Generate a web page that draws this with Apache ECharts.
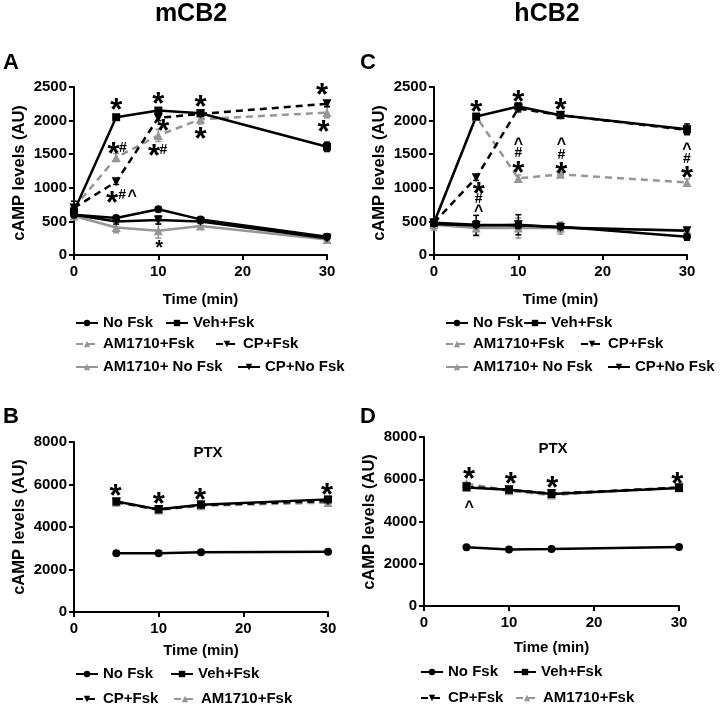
<!DOCTYPE html>
<html><head><meta charset="utf-8">
<script src="https://cdn.jsdelivr.net/npm/echarts@6/dist/echarts.min.js"></script>
<style>html,body{margin:0;padding:0;background:#fff}#c{width:722px;height:705px}</style>
</head><body><div id="c"></div>
<script>
// ---------- data ----------
const timeAC = [0, 5, 10, 15, 30];
const timeBD = [5, 10, 15, 30];
const xTicks = [0, 10, 20, 30];

// Panel A (mCB2)
const mNoFsk      = [600, 550, 680, 530, 270];
const mNoFskErr   = [40, 30, 30, 30, 40];
const mVehFsk     = [650, 2050, 2150, 2110, 1610];
const mVehFskErr  = [80, 30, 40, 40, 70];
const mAMFsk      = [700, 1450, 1780, 2020, 2120];
const mAMFskErr   = [100, 60, 90, 70, 80];
const mCPFsk      = [700, 1090, 2040, 2100, 2250];
const mCPFskErr   = [100, 40, 40, 40, 40];
const mAMNoFsk    = [580, 410, 360, 430, 230];
const mAMNoFskErr = [50, 80, 110, 40, 30];
const mCPNoFsk    = [600, 500, 520, 500, 250];
const mCPNoFskErr = [50, 40, 60, 30, 40];

// Panel C (hCB2)
const hNoFsk      = [480, 450, 440, 420, 270];
const hNoFskErr   = [40, 60, 60, 40, 50];
const hVehFsk     = [480, 2060, 2210, 2080, 1870];
const hVehFskErr  = [40, 30, 50, 30, 80];
const hAMFsk      = [480, 2060, 1140, 1200, 1080];
const hAMFskErr   = [40, 30, 50, 30, 50];
const hCPFsk      = [480, 1150, 2180, 2080, 1860];
const hCPFskErr   = [40, 40, 50, 30, 50];
const hAMNoFsk    = [450, 400, 400, 400, 370];
const hAMNoFskErr = [80, 100, 150, 90, 30];
const hCPNoFsk    = [460, 440, 450, 410, 360];
const hCPNoFskErr = [50, 150, 150, 60, 30];

// Panel B (mCB2, PTX)
const bNoFsk     = [2760, 2760, 2810, 2840];
const bNoFskErr  = [40, 40, 40, 40];
const bVehFsk    = [5200, 4830, 5050, 5300];
const bVehFskErr = [60, 50, 50, 80];
const bCPFsk     = [5180, 4820, 5030, 5220];
const bCPFskErr  = [60, 50, 50, 60];
const bAMFsk     = [5170, 4800, 5000, 5150];
const bAMFskErr  = [60, 50, 50, 60];

// Panel D (hCB2, PTX)
const dNoFsk     = [2780, 2680, 2700, 2790];
const dNoFskErr  = [40, 40, 40, 40];
const dVehFsk    = [5610, 5500, 5300, 5580];
const dVehFskErr = [60, 50, 60, 60];
const dCPFsk     = [5650, 5500, 5320, 5600];
const dCPFskErr  = [60, 50, 60, 60];
const dAMFsk     = [5800, 5450, 5250, 5620];
const dAMFskErr  = [60, 50, 60, 60];

// significance marks: [time, value, text, optional fontSize]
const annA = [
  [5, 2250, '*'], [10, 2340, '*'], [15, 2290, '*'],
  [29.4, 2465, '*'], [30.6, 2460, '#'],
  [4.7, 1590, '*'], [5.8, 1590, '#'],
  [9.5, 1565, '*'], [10.6, 1565, '#'],
  [10.6, 1940, '*'], [15, 1810, '*'],
  [29.6, 1913, '*'], [30.7, 1913, '#'],
  [30.2, 1390, '*'],
  [4.5, 870, '*'], [5.7, 895, '#'], [6.9, 920, '^'],
  [10.1, 175, '*', 20]
];
const annC = [
  [5, 2220, '*'], [10, 2360, '*'], [15, 2250, '*'], [30.1, 2090, '*'],
  [10, 1690, '^'], [10, 1516, '#'], [10, 1307, '*'],
  [15.1, 1690, '^'], [15.1, 1490, '#'], [15.1, 1290, '*'],
  [30, 1615, '^'], [30, 1426, '#'], [30, 1240, '*'],
  [5.3, 994, '*'], [5.3, 830, '#'], [5.3, 696, '^']
];
const annB = [[4.9, 5750, '*'], [10, 5350, '*'], [14.9, 5560, '*'], [29.9, 5800, '*']];
const annD = [[5.3, 6280, '*'], [10.2, 6080, '*'], [15.1, 5890, '*'], [29.8, 6080, '*'], [5.3, 4800, '^']];

// ---------- styles ----------
const FONT = 'Liberation Sans, Arial, Helvetica, sans-serif';
const GRAY = '#969696';
const STY = {
  'No Fsk':         {color: '#000', type: 'solid',  symbol: 'circle',   rot: 0,   size: 8},
  'Veh+Fsk':        {color: '#000', type: 'solid',  symbol: 'rect',     rot: 0,   size: 8},
  'AM1710+Fsk':     {color: GRAY,   type: [7, 5],   symbol: 'triangle', rot: 0,   size: 9},
  'CP+Fsk':         {color: '#000', type: [7, 5],   symbol: 'triangle', rot: 180, size: 9},
  'AM1710+ No Fsk': {color: GRAY,   type: 'solid',  symbol: 'triangle', rot: 0,   size: 9},
  'CP+No Fsk':      {color: '#000', type: 'solid',  symbol: 'triangle', rot: 180, size: 9}
};

const series = [];
function addSeries(name, gi, times, vals, errs) {
  const s = STY[name];
  series.push({
    type: 'custom', name: '__err' + gi + name, xAxisIndex: gi, yAxisIndex: gi, silent: true, z: 3,
    data: times.map((t, i) => [t, vals[i], errs[i]]),
    renderItem: function (params, api) {
      const x = api.value(0), y = api.value(1), e = api.value(2);
      const p1 = api.coord([x, y + e]), p2 = api.coord([x, y - e]);
      const w = 3, st = {stroke: s.color, lineWidth: 1.5};
      return {type: 'group', children: [
        {type: 'line', shape: {x1: p1[0], y1: p1[1], x2: p2[0], y2: p2[1]}, style: st},
        {type: 'line', shape: {x1: p1[0] - w, y1: p1[1], x2: p1[0] + w, y2: p1[1]}, style: st},
        {type: 'line', shape: {x1: p2[0] - w, y1: p2[1], x2: p2[0] + w, y2: p2[1]}, style: st}
      ]};
    }
  });
  series.push({
    type: 'line', name: name, xAxisIndex: gi, yAxisIndex: gi, z: 4,
    data: times.map((t, i) => [t, vals[i]]),
    symbol: s.symbol, symbolSize: s.size, symbolRotate: s.rot, showSymbol: true,
    lineStyle: {color: s.color, width: 2.5, type: s.type},
    itemStyle: {color: s.color},
    animation: false, silent: true
  });
}

// order: gray underneath black
addSeries('AM1710+ No Fsk', 0, timeAC, mAMNoFsk, mAMNoFskErr);
addSeries('AM1710+Fsk', 0, timeAC, mAMFsk, mAMFskErr);
addSeries('CP+No Fsk', 0, timeAC, mCPNoFsk, mCPNoFskErr);
addSeries('No Fsk', 0, timeAC, mNoFsk, mNoFskErr);
addSeries('CP+Fsk', 0, timeAC, mCPFsk, mCPFskErr);
addSeries('Veh+Fsk', 0, timeAC, mVehFsk, mVehFskErr);

addSeries('AM1710+ No Fsk', 1, timeAC, hAMNoFsk, hAMNoFskErr);
addSeries('AM1710+Fsk', 1, timeAC, hAMFsk, hAMFskErr);
addSeries('CP+No Fsk', 1, timeAC, hCPNoFsk, hCPNoFskErr);
addSeries('No Fsk', 1, timeAC, hNoFsk, hNoFskErr);
addSeries('CP+Fsk', 1, timeAC, hCPFsk, hCPFskErr);
addSeries('Veh+Fsk', 1, timeAC, hVehFsk, hVehFskErr);

addSeries('AM1710+Fsk', 2, timeBD, bAMFsk, bAMFskErr);
addSeries('CP+Fsk', 2, timeBD, bCPFsk, bCPFskErr);
addSeries('No Fsk', 2, timeBD, bNoFsk, bNoFskErr);
addSeries('Veh+Fsk', 2, timeBD, bVehFsk, bVehFskErr);

addSeries('AM1710+Fsk', 3, timeBD, dAMFsk, dAMFskErr);
addSeries('CP+Fsk', 3, timeBD, dCPFsk, dCPFskErr);
addSeries('No Fsk', 3, timeBD, dNoFsk, dNoFskErr);
addSeries('Veh+Fsk', 3, timeBD, dVehFsk, dVehFskErr);

function markSize(ch) { return ch === '*' ? 31 : (ch === '#' ? 14 : 16); }
function markOff(ch, fs) { return ch === '*' ? 0.24 * fs : (ch === '^' ? 0.2 * fs : 0); }
function addMarks(gi, ann) {
  series.push({
    type: 'scatter', name: '__marks' + gi, xAxisIndex: gi, yAxisIndex: gi, z: 6, silent: true,
    symbol: 'circle', symbolSize: 1, itemStyle: {color: '#fff', opacity: 0}, animation: false,
    data: ann.map(a => {
      const fs = a[3] || markSize(a[2]);
      return {value: [a[0], a[1]], label: {formatter: a[2], fontSize: fs, offset: [0, markOff(a[2], fs)]}};
    }),
    label: {show: true, position: 'inside', color: '#000', opacity: 1, fontWeight: 'bold', fontFamily: FONT,
            textBorderWidth: 0, textBorderColor: 'transparent', textShadowBlur: 0,
            align: 'center', verticalAlign: 'middle'}
  });
}
addMarks(0, annA); addMarks(1, annC); addMarks(2, annB); addMarks(3, annD);

// ---------- axes ----------
const grids = [
  {left: 74, top: 87, width: 253, height: 168},
  {left: 434, top: 87, width: 253, height: 168},
  {left: 74, top: 442, width: 254, height: 170},
  {left: 424, top: 437, width: 255, height: 169}
].map(g => Object.assign(g, {containLabel: false, outerBoundsMode: 'none'}));
const axisLine = {show: true, lineStyle: {color: '#000', width: 2}};
const axisTick = {show: true, length: 5, lineStyle: {color: '#000', width: 2}};
const tickFont = {color: '#000', fontSize: 15, fontWeight: 'bold', fontFamily: FONT};
const nameFont = {color: '#000', fontSize: 15, fontWeight: 'bold', fontFamily: FONT};
const xGaps = [37, 37, 31, 34];
const xAxes = grids.map((g, i) => ({
  type: 'value', gridIndex: i, min: xTicks[0], max: xTicks[xTicks.length - 1], interval: 10,
  axisLine, axisTick, splitLine: {show: false},
  axisLabel: Object.assign({margin: 9, formatter: v => String(v)}, tickFont),
  name: 'Time (min)', nameLocation: 'middle', nameGap: xGaps[i], nameTextStyle: nameFont,
  nameMoveOverlap: false
}));
const yCfg = [[0, 2500, 500], [0, 2500, 500], [0, 8000, 2000], [0, 8000, 2000]];
const yAxes = grids.map((g, i) => ({
  type: 'value', gridIndex: i, min: yCfg[i][0], max: yCfg[i][1], interval: yCfg[i][2],
  axisLine, axisTick, splitLine: {show: false},
  axisLabel: Object.assign({margin: 7, formatter: v => String(v)}, tickFont)
}));

// y-axis titles (rotated text): [centerX, centerY]
const yNamePos = [[19, 173], [379, 173], [19, 527], [369, 522]];
const graphics = yNamePos.map(p => ({
  type: 'text', x: p[0], y: p[1], rotation: Math.PI / 2, silent: true,
  style: {text: 'cAMP levels (AU)', fill: '#000', align: 'center', verticalAlign: 'middle',
          font: 'bold 16.5px ' + FONT}
}));

// ---------- legends ----------
function leg(name, left, rowY) {
  return {data: [name], left: left, top: rowY - 8, padding: 0, itemWidth: 22, itemHeight: 8,
          selectedMode: false, orient: 'horizontal',
          textStyle: {color: '#000', fontSize: 15, fontWeight: 'bold', fontFamily: FONT, lineHeight: 16}};
}
const legends = [
  leg('No Fsk', 75, 323), leg('Veh+Fsk', 165, 323),
  leg('AM1710+Fsk', 75, 344), leg('CP+Fsk', 215, 344),
  leg('AM1710+ No Fsk', 75, 367), leg('CP+No Fsk', 237, 367),
  leg('No Fsk', 445, 323), leg('Veh+Fsk', 523, 323),
  leg('AM1710+Fsk', 445, 344), leg('CP+Fsk', 580, 344),
  leg('AM1710+ No Fsk', 445, 367), leg('CP+No Fsk', 607, 367),
  leg('No Fsk', 75, 674), leg('Veh+Fsk', 170, 674),
  leg('CP+Fsk', 75, 699), leg('AM1710+Fsk', 173, 699),
  leg('No Fsk', 420, 672), leg('Veh+Fsk', 513, 672),
  leg('CP+Fsk', 420, 698), leg('AM1710+Fsk', 515, 698)
];

// ---------- titles ----------
function ttl(text, x, y, fs) {
  return {text: text, left: x, top: y, textAlign: 'center', padding: 0,
          textStyle: {color: '#000', fontSize: fs, fontWeight: 'bold', fontFamily: FONT}};
}
const titles = [
  ttl('mCB2', 191, 2, 25), ttl('hCB2', 547, 2, 25),
  ttl('A', 11, 52, 22), ttl('C', 368, 52, 22), ttl('B', 11, 406, 22), ttl('D', 368, 406, 22),
  ttl('PTX', 208, 445, 15), ttl('PTX', 553, 441, 15)
];

const chart = echarts.init(document.getElementById('c'), null, {renderer: 'canvas'});
chart.setOption({
  animation: false,
  backgroundColor: '#fff',
  title: titles,
  legend: legends,
  grid: grids,
  xAxis: xAxes,
  yAxis: yAxes,
  graphic: graphics,
  series: series
});
</script>
</body></html>
